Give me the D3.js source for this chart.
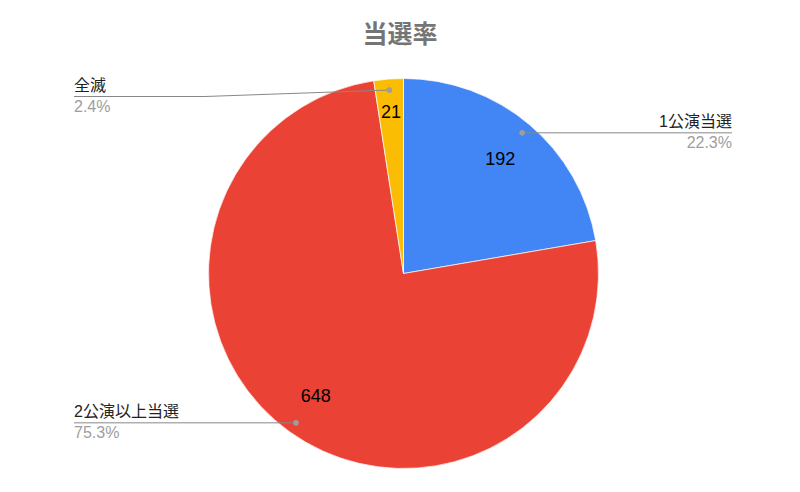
<!DOCTYPE html>
<html>
<head>
<meta charset="utf-8">
<script src="https://cdn.jsdelivr.net/npm/d3@7"></script>
<style>
  html, body { margin: 0; padding: 0; background: #fff; }
  svg { display: block; font-family: "Liberation Sans", Arial, "Noto Sans CJK JP", sans-serif; }
</style>
</head>
<body>
<svg id="chart" width="800" height="492"></svg>
<script>
// chart data
const categories = ['1公演当選', '2公演以上当選', '全滅']
const counts = [192, 648, 21]
const colors = ['#4285f4', '#ea4335', '#fbbc04']
const title = '当選率'

const width = 800, height = 492
const cx = 403.5, cy = 273.5, radius = 195

const svg = d3.select('#chart')

// title
svg.append('text')
  .attr('x', 400).attr('y', 43)
  .attr('text-anchor', 'middle')
  .attr('font-size', 25).attr('font-weight', 'bold')
  .attr('fill', '#757575')
  .text(title)

const total = d3.sum(counts)
const data = categories.map((c, i) => ({name: c, value: counts[i], color: colors[i]}))

const pie = d3.pie().value(d => d.value).sort(null)
const arcs = pie(data)

const arc = d3.arc().innerRadius(0).outerRadius(radius)
const dotArc = d3.arc().innerRadius(184).outerRadius(184)

const g = svg.append('g').attr('transform', `translate(${cx},${cy})`)

g.selectAll('path.slice').data(arcs).enter().append('path')
  .attr('class', 'slice')
  .attr('d', arc)
  .attr('fill', d => d.data.color)
  .attr('stroke', '#fff').attr('stroke-width', 0.7)

// value labels inside the slices (narrow slices pushed outward a bit)
g.selectAll('text.val').data(arcs).enter().append('text')
  .attr('class', 'val')
  .attr('transform', d => {
    const span = d.endAngle - d.startAngle
    const r = span < 0.3 ? 162 : 150
    const a = (d.startAngle + d.endAngle) / 2
    return `translate(${Math.sin(a) * r},${-Math.cos(a) * r})`
  })
  .attr('text-anchor', 'middle').attr('dy', '0.36em')
  .attr('font-size', 18).attr('fill', '#000')
  .text(d => d.data.value)

// leader lines + legend labels
const fmt = d3.format('.1f')
arcs.forEach(d => {
  const [dx, dy] = dotArc.centroid(d)
  const px = cx + dx, py = cy + dy
  const right = dx > 0
  const lineY = d.data.name === '全滅' ? 96.5 : py
  const endX = right ? 732 : 74
  const pts = d.data.name === '全滅'
    ? [[px, py], [205, lineY], [endX, lineY]]
    : [[px, py], [endX, lineY]]

  svg.append('path')
    .attr('d', d3.line()(pts))
    .attr('fill', 'none').attr('stroke', '#888').attr('stroke-width', 1)

  svg.append('circle')
    .attr('cx', px).attr('cy', py).attr('r', 2.8)
    .attr('fill', '#9e9e9e')

  const anchor = right ? 'end' : 'start'
  svg.append('text')
    .attr('x', endX).attr('y', lineY - 6)
    .attr('text-anchor', anchor)
    .attr('font-size', 16).attr('fill', '#222')
    .text(d.data.name)
  svg.append('text')
    .attr('x', endX).attr('y', lineY + 15)
    .attr('text-anchor', anchor)
    .attr('font-size', 16).attr('fill', '#9e9e9e')
    .text(fmt(d.data.value / total * 100) + '%')
})
</script>
</body>
</html>
